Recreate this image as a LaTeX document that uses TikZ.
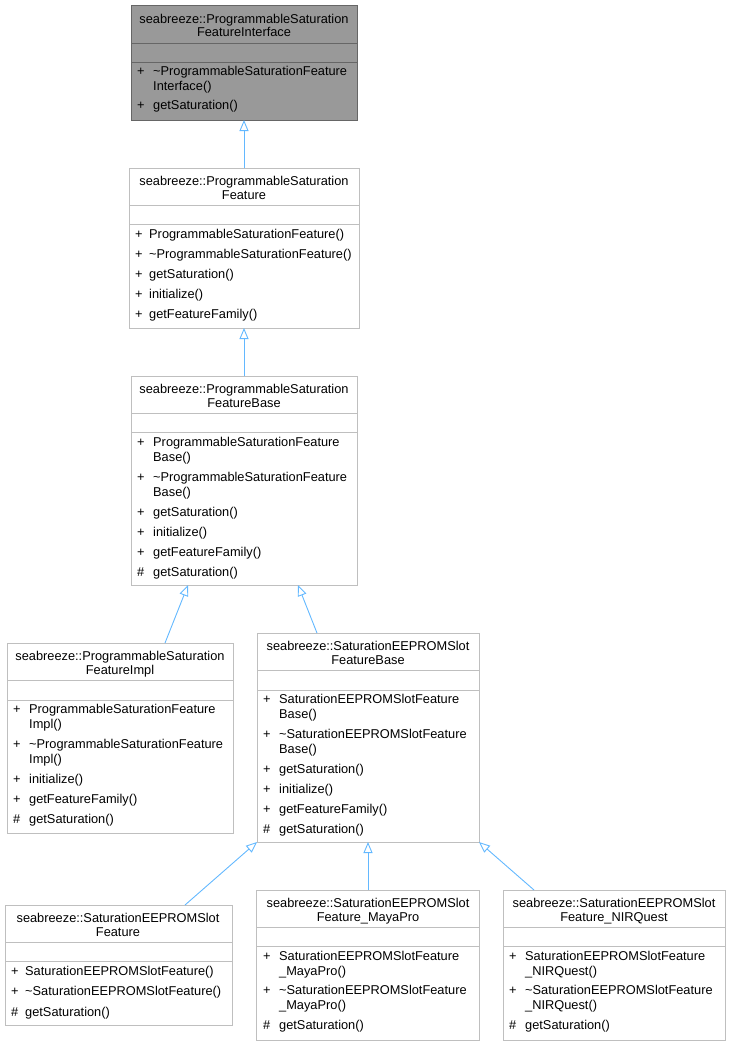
\documentclass[tikz,border=0pt]{standalone}
\usepackage{fontspec}
\setmainfont{Liberation Sans}
\usetikzlibrary{arrows.meta}
\definecolor{edgec}{HTML}{63B8FF}
\definecolor{boxc}{HTML}{BFBFBF}
\tikzset{
  box/.style={draw=boxc,line width=1pt,fill=white},
  gbox/.style={draw=black!60,line width=1pt,fill=black!40},
  sep/.style={draw=boxc,line width=1pt},
  gsep/.style={draw=black!60,line width=1pt},
  t/.style={anchor=base,inner sep=0pt,font=\fontsize{12.8}{14}\selectfont},
  l/.style={anchor=base west,inner sep=0pt,font=\fontsize{12.8}{14}\selectfont},
  edge/.style={draw=edgec,line width=0.9pt,-{Triangle[open,length=11pt,width=9pt]}}
}
\begin{document}
\begin{tikzpicture}[x=1pt,y=-1pt]
\useasboundingbox (0,0) rectangle (731,1045);
% helper: box(name, x1,y1,x2,y2)
% Box 1 interface
\path[gbox] (131,5) rectangle (357,120);
\draw[gsep] (131,43)--(357,43) (131,62)--(357,62);
\node[t] (b1t) at (244,23) {seabreeze::ProgrammableSaturation};
\node[t] at (244,36) {FeatureInterface};
\node[l] at (137,75) {+}; \node[l] at (153,75) {\char"7EProgrammableSaturationFeature};
\node[l] at (153,90) {Interface()};
\node[l] at (137,109) {+}; \node[l] at (153,109) {getSaturation()};
\coordinate (b1b) at (244,120);
% Box 2
\path[box] (129,168) rectangle (359,328);
\draw[sep] (129,205)--(359,205) (129,224)--(359,224);
\node[t] at (244,185) {seabreeze::ProgrammableSaturation};
\node[t] at (244,199) {Feature};
\foreach \y/\s in {238/{ProgrammableSaturationFeature()},258/{\char"7EProgrammableSaturationFeature()},278/{getSaturation()},298/{initialize()},318/{getFeatureFamily()}}{
  \node[l] at (135,\y) {+}; \node[l] at (149,\y) {\s};}
\coordinate (b2t) at (244,168); \coordinate (b2b) at (244,328);
% Box 3
\path[box] (131,376) rectangle (357,585);
\draw[sep] (131,413)--(357,413) (131,432)--(357,432);
\node[t] at (244,393) {seabreeze::ProgrammableSaturation};
\node[t] at (244,407) {FeatureBase};
\foreach \y/\p/\s in {446/+/{ProgrammableSaturationFeature},481/+/{\char"7EProgrammableSaturationFeature},516/+/{getSaturation()},536/+/{initialize()},556/+/{getFeatureFamily()},576/\#/{getSaturation()}}{
  \node[l] at (137,\y) {\p}; \node[l] at (153,\y) {\s};}
\node[l] at (153,461) {Base()}; \node[l] at (153,496) {Base()};
\coordinate (b3t) at (244,376); \coordinate (b3l) at (188,585); \coordinate (b3r) at (298,585);
% Box 4 Impl
\path[box] (7,643) rectangle (233,833);
\draw[sep] (7,680)--(233,680) (7,700)--(233,700);
\node[t] at (120,660) {seabreeze::ProgrammableSaturation};
\node[t] at (120,674) {FeatureImpl};
\foreach \y/\p/\s in {713/+/{ProgrammableSaturationFeature},748/+/{\char"7EProgrammableSaturationFeature},783/+/{initialize()},803/+/{getFeatureFamily()},823/\#/{getSaturation()}}{
  \node[l] at (13,\y) {\p}; \node[l] at (29,\y) {\s};}
\node[l] at (29,728) {Impl()}; \node[l] at (29,763) {Impl()};
\coordinate (b4t) at (165,643);
% Box 5 slot base
\path[box] (257,633) rectangle (479,842);
\draw[sep] (257,670)--(479,670) (257,690)--(479,690);
\node[t] at (368,650) {seabreeze::SaturationEEPROMSlot};
\node[t] at (368,664) {FeatureBase};
\foreach \y/\p/\s in {703/+/{SaturationEEPROMSlotFeature},738/+/{\char"7ESaturationEEPROMSlotFeature},773/+/{getSaturation()},793/+/{initialize()},813/+/{getFeatureFamily()},833/\#/{getSaturation()}}{
  \node[l] at (263,\y) {\p}; \node[l] at (279,\y) {\s};}
\node[l] at (279,718) {Base()}; \node[l] at (279,753) {Base()};
\coordinate (b5t) at (317,633); \coordinate (b5l) at (257,842); \coordinate (b5m) at (368,842); \coordinate (b5r) at (479,842);
% Box 6
\path[box] (5,905) rectangle (232,1025);
\draw[sep] (5,942)--(232,942) (5,961)--(232,961);
\node[t] at (118,922) {seabreeze::SaturationEEPROMSlot};
\node[t] at (118,936) {Feature};
\foreach \y/\p/\s in {975/+/{SaturationEEPROMSlotFeature()},995/+/{\char"7ESaturationEEPROMSlotFeature()},1016/\#/{getSaturation()}}{
  \node[l] at (11,\y) {\p}; \node[l] at (25,\y) {\s};}
\coordinate (b6t) at (185,905);
% Box 7
\path[box] (256,890) rectangle (479,1040);
\draw[sep] (256,927)--(479,927) (256,946)--(479,946);
\node[t] at (368,907) {seabreeze::SaturationEEPROMSlot};
\node[t] at (368,921) {Feature\_MayaPro};
\foreach \y/\p/\s in {960/+/{SaturationEEPROMSlotFeature},994/+/{\char"7ESaturationEEPROMSlotFeature},1029/\#/{getSaturation()}}{
  \node[l] at (263,\y) {\p}; \node[l] at (279,\y) {\s};}
\node[l] at (279,975) {\_MayaPro()}; \node[l] at (279,1009) {\_MayaPro()};
\coordinate (b7t) at (368,890);
% Box 8
\path[box] (503,890) rectangle (725,1040);
\draw[sep] (503,927)--(725,927) (503,946)--(725,946);
\node[t] at (614,907) {seabreeze::SaturationEEPROMSlot};
\node[t] at (614,921) {Feature\_NIRQuest};
\foreach \y/\p/\s in {960/+/{SaturationEEPROMSlotFeature},994/+/{\char"7ESaturationEEPROMSlotFeature},1029/\#/{getSaturation()}}{
  \node[l] at (509,\y) {\p}; \node[l] at (525,\y) {\s};}
\node[l] at (525,975) {\_NIRQuest()}; \node[l] at (525,1009) {\_NIRQuest()};
\coordinate (b8t) at (534,890);
% edges
\draw[edge] (b2t) -- (b1b);
\draw[edge] (b3t) -- (b2b);
\draw[edge] (b4t) -- (b3l);
\draw[edge] (b5t) -- (b3r);
\draw[edge] (b6t) -- (b5l);
\draw[edge] (b7t) -- (b5m);
\draw[edge] (b8t) -- (b5r);
\end{tikzpicture}
\end{document}
